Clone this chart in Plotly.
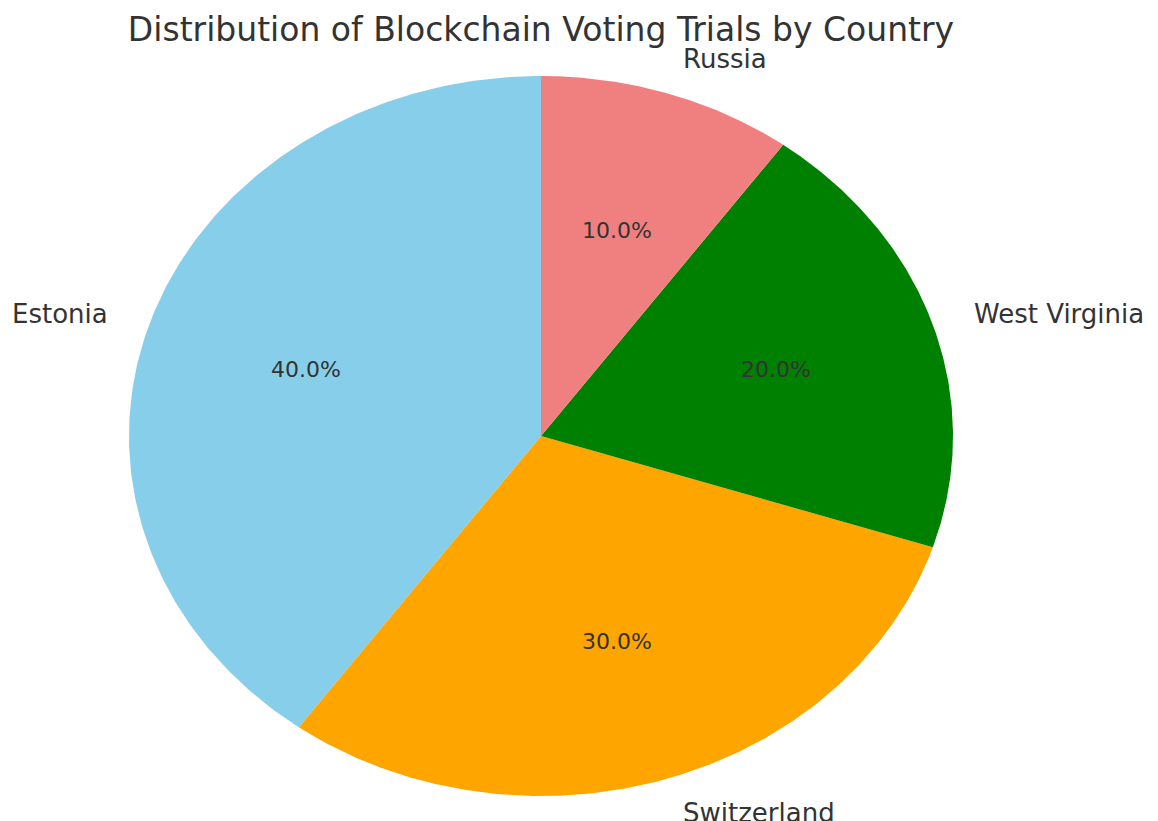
import numpy as np
import plotly.graph_objects as go

countries = ["Estonia", "Switzerland", "West Virginia", "Russia"]
shares = [40, 30, 20, 10]
colors = ["#87CEEB", "#FFA500", "#008000", "#F08080"]
title_text = "Distribution of Blockchain Voting Trials by Country"

W, H = 1158, 821
cx, cy = 541, 436      # pie centre in pixels
rx, ry = 412, 360      # pie radii in pixels
start_angle = 90.0

fig = go.Figure()
total = float(sum(shares))
theta0 = start_angle
text_col = "#333333"
font_fam = "DejaVu Sans"
annotations = []
for name, val, col in zip(countries, shares, colors):
    span = 360.0 * val / total
    th = np.radians(np.linspace(theta0, theta0 + span, 200))
    xs = np.concatenate([[0.0], np.cos(th), [0.0]])
    ys = np.concatenate([[0.0], np.sin(th), [0.0]])
    fig.add_trace(go.Scatter(x=xs, y=ys, mode="lines", fill="toself",
                             fillcolor=col, line=dict(width=0, color=col),
                             name=name, hoverinfo="name", showlegend=False))
    mid = np.radians(theta0 + span / 2)
    lx, ly = 1.1 * np.cos(mid), 1.1 * np.sin(mid)
    annotations.append(dict(x=lx, y=ly, xref="x", yref="y", text=name,
                            showarrow=False, xanchor="left" if lx > 0 else "right",
                            yanchor="middle",
                            font=dict(family=font_fam, size=26, color=text_col)))
    px, py = 0.6 * np.cos(mid), 0.6 * np.sin(mid)
    annotations.append(dict(x=px, y=py, xref="x", yref="y", text=f"{100*val/total:.1f}%",
                            showarrow=False, xanchor="center", yanchor="middle",
                            font=dict(family=font_fam, size=22, color=text_col)))
    theta0 += span

fig.update_layout(
    width=W, height=H,
    margin=dict(l=0, r=0, t=0, b=0),
    paper_bgcolor="white", plot_bgcolor="white",
    xaxis=dict(range=[-cx / rx, (W - cx) / rx], visible=False, fixedrange=True),
    yaxis=dict(range=[-(H - cy) / ry, cy / ry], visible=False, fixedrange=True),
    title=dict(text=title_text, x=cx / W, xanchor="center", y=1 - 29 / H,
               yanchor="middle", yref="container",
               font=dict(family=font_fam, size=33, color=text_col)),
    annotations=annotations,
    showlegend=False,
)
fig.write_html("out.html")
